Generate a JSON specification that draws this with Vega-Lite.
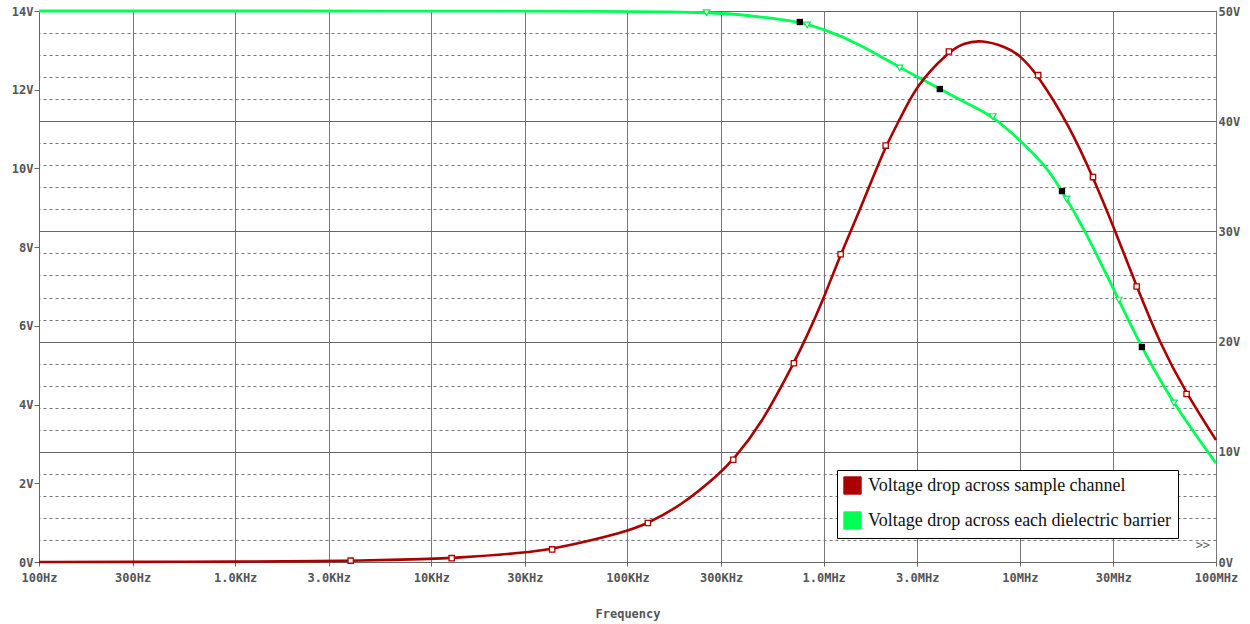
{
  "$schema": "https://vega.github.io/schema/vega-lite/v6.json",
  "width": 1177,
  "height": 551,
  "autosize": {"type": "none"},
  "padding": {"left": 39, "top": 11, "right": 34, "bottom": 62},
  "background": "white",
  "config": {
    "view": {"stroke": "#666", "strokeWidth": 1},
    "axis": {
      "labelFont": "DejaVu Sans Mono",
      "labelFontSize": 12,
      "labelFontWeight": "bold",
      "labelColor": "#555",
      "labelOverlap": false,
      "titleFont": "DejaVu Sans Mono",
      "titleFontSize": 12,
      "titleFontWeight": "bold",
      "titleColor": "#555",
      "domainColor": "#666",
      "tickColor": "#666"
    }
  },
  "datasets": {
    "red": [
      {"freq": 100, "v": 0.001, "series": "Voltage drop across sample channel"},
      {"freq": 300, "v": 0.0025, "series": "Voltage drop across sample channel"},
      {"freq": 1000, "v": 0.008, "series": "Voltage drop across sample channel"},
      {"freq": 3000, "v": 0.024, "series": "Voltage drop across sample channel"},
      {"freq": 3880, "v": 0.03, "series": "Voltage drop across sample channel"},
      {"freq": 10000, "v": 0.077, "series": "Voltage drop across sample channel"},
      {"freq": 12700, "v": 0.098, "series": "Voltage drop across sample channel"},
      {"freq": 30000, "v": 0.236, "series": "Voltage drop across sample channel"},
      {"freq": 41300, "v": 0.32, "series": "Voltage drop across sample channel"},
      {"freq": 100000, "v": 0.77, "series": "Voltage drop across sample channel"},
      {"freq": 127000, "v": 0.99, "series": "Voltage drop across sample channel"},
      {"freq": 185000, "v": 1.41, "series": "Voltage drop across sample channel"},
      {"freq": 296000, "v": 2.25, "series": "Voltage drop across sample channel"},
      {"freq": 346000, "v": 2.6, "series": "Voltage drop across sample channel"},
      {"freq": 473000, "v": 3.44, "series": "Voltage drop across sample channel"},
      {"freq": 705000, "v": 5.05, "series": "Voltage drop across sample channel"},
      {"freq": 818000, "v": 5.72, "series": "Voltage drop across sample channel"},
      {"freq": 994000, "v": 6.66, "series": "Voltage drop across sample channel"},
      {"freq": 1220000, "v": 7.82, "series": "Voltage drop across sample channel"},
      {"freq": 1530000, "v": 8.94, "series": "Voltage drop across sample channel"},
      {"freq": 2070000, "v": 10.58, "series": "Voltage drop across sample channel"},
      {"freq": 2440000, "v": 11.23, "series": "Voltage drop across sample channel"},
      {"freq": 2970000, "v": 12.12, "series": "Voltage drop across sample channel"},
      {"freq": 4350000, "v": 12.97, "series": "Voltage drop across sample channel"},
      {"freq": 5140000, "v": 13.18, "series": "Voltage drop across sample channel"},
      {"freq": 6380000, "v": 13.27, "series": "Voltage drop across sample channel"},
      {"freq": 8550000, "v": 13.08, "series": "Voltage drop across sample channel"},
      {"freq": 10000000, "v": 12.88, "series": "Voltage drop across sample channel"},
      {"freq": 12400000, "v": 12.37, "series": "Voltage drop across sample channel"},
      {"freq": 18000000, "v": 11.06, "series": "Voltage drop across sample channel"},
      {"freq": 23600000, "v": 9.78, "series": "Voltage drop across sample channel"},
      {"freq": 30500000, "v": 8.44, "series": "Voltage drop across sample channel"},
      {"freq": 39400000, "v": 7.0, "series": "Voltage drop across sample channel"},
      {"freq": 51700000, "v": 5.56, "series": "Voltage drop across sample channel"},
      {"freq": 70800000, "v": 4.27, "series": "Voltage drop across sample channel"},
      {"freq": 100000000, "v": 3.1, "series": "Voltage drop across sample channel"}
    ],
    "redMarkers": [
      {"freq": 3880, "v": 0.035},
      {"freq": 12700, "v": 0.098},
      {"freq": 41300, "v": 0.32},
      {"freq": 127000, "v": 0.99},
      {"freq": 346000, "v": 2.6},
      {"freq": 705000, "v": 5.05},
      {"freq": 1220000, "v": 7.82},
      {"freq": 2070000, "v": 10.58},
      {"freq": 4350000, "v": 12.97},
      {"freq": 12400000, "v": 12.37},
      {"freq": 23600000, "v": 9.78},
      {"freq": 39400000, "v": 7.0},
      {"freq": 70800000, "v": 4.27}
    ],
    "green": [
      {"freq": 100, "v": 50, "series": "Voltage drop across each dielectric barrier"},
      {"freq": 10000, "v": 50, "series": "Voltage drop across each dielectric barrier"},
      {"freq": 100000, "v": 49.97, "series": "Voltage drop across each dielectric barrier"},
      {"freq": 158000, "v": 49.93, "series": "Voltage drop across each dielectric barrier"},
      {"freq": 253000, "v": 49.84, "series": "Voltage drop across each dielectric barrier"},
      {"freq": 344000, "v": 49.75, "series": "Voltage drop across each dielectric barrier"},
      {"freq": 512000, "v": 49.4, "series": "Voltage drop across each dielectric barrier"},
      {"freq": 756000, "v": 49.0, "series": "Voltage drop across each dielectric barrier"},
      {"freq": 991000, "v": 48.39, "series": "Voltage drop across each dielectric barrier"},
      {"freq": 1530000, "v": 47.0, "series": "Voltage drop across each dielectric barrier"},
      {"freq": 2440000, "v": 44.87, "series": "Voltage drop across each dielectric barrier"},
      {"freq": 3090000, "v": 43.92, "series": "Voltage drop across each dielectric barrier"},
      {"freq": 3910000, "v": 42.92, "series": "Voltage drop across each dielectric barrier"},
      {"freq": 5350000, "v": 41.62, "series": "Voltage drop across each dielectric barrier"},
      {"freq": 7280000, "v": 40.47, "series": "Voltage drop across each dielectric barrier"},
      {"freq": 10000000, "v": 38.29, "series": "Voltage drop across each dielectric barrier"},
      {"freq": 13700000, "v": 35.87, "series": "Voltage drop across each dielectric barrier"},
      {"freq": 16400000, "v": 33.69, "series": "Voltage drop across each dielectric barrier"},
      {"freq": 21400000, "v": 30.13, "series": "Voltage drop across each dielectric barrier"},
      {"freq": 27700000, "v": 26.04, "series": "Voltage drop across each dielectric barrier"},
      {"freq": 32000000, "v": 23.77, "series": "Voltage drop across each dielectric barrier"},
      {"freq": 41700000, "v": 19.48, "series": "Voltage drop across each dielectric barrier"},
      {"freq": 60400000, "v": 14.4, "series": "Voltage drop across each dielectric barrier"},
      {"freq": 100000000, "v": 8.96, "series": "Voltage drop across each dielectric barrier"}
    ],
    "greenMarkers": [
      {"freq": 253000, "v": 49.84},
      {"freq": 824000, "v": 48.73},
      {"freq": 2440000, "v": 44.83},
      {"freq": 7280000, "v": 40.42},
      {"freq": 17300000, "v": 32.94},
      {"freq": 32000000, "v": 23.77},
      {"freq": 61000000, "v": 14.43}
    ],
    "blackMarkers": [
      {"freq": 756000, "v": 49.0},
      {"freq": 3910000, "v": 42.92},
      {"freq": 16400000, "v": 33.66},
      {"freq": 41900000, "v": 19.51}
    ],
    "notes": [
      {"freq": 85700000, "v": 0.43, "text": ">>"}
    ]
  },
  "encoding": {
    "x": {
      "field": "freq",
      "type": "quantitative",
      "scale": {"type": "log", "domain": [100, 100000000], "nice": false},
      "axis": {
        "values": [100, 300, 1000, 3000, 10000, 30000, 100000, 300000, 1000000, 3000000, 10000000, 30000000, 100000000],
        "labelExpr": "datum.value < 150 ? '100Hz' : datum.value < 500 ? '300Hz' : datum.value < 1500 ? '1.0KHz' : datum.value < 5000 ? '3.0KHz' : datum.value < 15000 ? '10KHz' : datum.value < 50000 ? '30KHz' : datum.value < 150000 ? '100KHz' : datum.value < 500000 ? '300KHz' : datum.value < 1500000 ? '1.0MHz' : datum.value < 5000000 ? '3.0MHz' : datum.value < 15000000 ? '10MHz' : datum.value < 50000000 ? '30MHz' : '100MHz'",
        "grid": true,
        "gridColor": "#777",
        "gridWidth": 1,
        "tickSize": 4,
        "labelPadding": 6,
        "labelFlush": false,
        "labelOverlap": false,
        "title": "Frequency",
        "titlePadding": 25
      }
    }
  },
  "layer": [
    {
      "layer": [
        {
          "data": {"name": "green"},
          "mark": {"type": "line", "strokeWidth": 2.8, "interpolate": "basis"},
          "encoding": {
            "y": {
              "field": "v",
              "type": "quantitative",
              "scale": {"domain": [0, 50], "nice": false},
              "axis": {
                "orient": "right",
                "values": [0, 2, 4, 6, 8, 10, 12, 14, 16, 18, 20, 22, 24, 26, 28, 30, 32, 34, 36, 38, 40, 42, 44, 46, 48, 50],
                "labelExpr": "datum.value % 10 === 0 ? datum.value + 'V' : ''",
                "labelOverlap": false,
                "labelFlush": false,
                "ticks": false,
                "domain": false,
                "labelPadding": 2,
                "labelAlign": "left",
                "grid": true,
                "gridWidth": 1,
                "gridColor": {"condition": {"test": "datum.value % 10 === 0", "value": "#666"}, "value": "#777"},
                "gridDash": {"condition": {"test": "datum.value % 10 === 0", "value": []}, "value": [3, 3]},
                "title": null
              }
            },
            "color": {
              "field": "series",
              "type": "nominal",
              "scale": {
                "domain": ["Voltage drop across sample channel", "Voltage drop across each dielectric barrier"],
                "range": ["#aa0000", "#00ff55"]
              },
              "legend": {
                "orient": "none",
                "legendX": 798,
                "legendY": 459,
                "title": null,
                "fillColor": "white",
                "strokeColor": "black",
                "padding": 6,
                "symbolType": "square",
                "symbolSize": 300,
                "labelFont": "Liberation Serif",
                "labelFontSize": 18,
                "labelColor": "#111",
                "labelOffset": 6,
                "labelLimit": 500,
                "labelExpr": "datum.label + '\u00a0\u00a0'",
                "rowPadding": 12,
                "encode": {
                  "symbols": {
                    "update": {
                      "fill": {"scale": "color", "field": "value"},
                      "stroke": {"value": "#333"},
                      "strokeWidth": {"value": 1},
                      "opacity": {"value": 1}
                    }
                  }
                }
              }
            }
          }
        },
        {
          "data": {"name": "greenMarkers"},
          "mark": {"type": "point", "shape": "triangle-down", "size": 42, "fill": "white", "stroke": "#00ee55", "strokeWidth": 1.2, "opacity": 1},
          "encoding": {
            "y": {
              "field": "v",
              "type": "quantitative",
              "axis": {
                "orient": "right",
                "values": [0, 2, 4, 6, 8, 10, 12, 14, 16, 18, 20, 22, 24, 26, 28, 30, 32, 34, 36, 38, 40, 42, 44, 46, 48, 50],
                "labelExpr": "datum.value % 10 === 0 ? datum.value + 'V' : ''",
                "labelOverlap": false,
                "labelFlush": false,
                "ticks": false,
                "domain": false,
                "labelPadding": 2,
                "labelAlign": "left",
                "grid": true,
                "gridWidth": 1,
                "gridColor": {"condition": {"test": "datum.value % 10 === 0", "value": "#666"}, "value": "#777"},
                "gridDash": {"condition": {"test": "datum.value % 10 === 0", "value": []}, "value": [3, 3]},
                "title": null
              }
            }
          }
        },
        {
          "data": {"name": "blackMarkers"},
          "mark": {"type": "point", "shape": "square", "size": 40, "filled": true, "color": "black", "opacity": 1},
          "encoding": {
            "y": {
              "field": "v",
              "type": "quantitative",
              "axis": {
                "orient": "right",
                "values": [0, 2, 4, 6, 8, 10, 12, 14, 16, 18, 20, 22, 24, 26, 28, 30, 32, 34, 36, 38, 40, 42, 44, 46, 48, 50],
                "labelExpr": "datum.value % 10 === 0 ? datum.value + 'V' : ''",
                "labelOverlap": false,
                "labelFlush": false,
                "ticks": false,
                "domain": false,
                "labelPadding": 2,
                "labelAlign": "left",
                "grid": true,
                "gridWidth": 1,
                "gridColor": {"condition": {"test": "datum.value % 10 === 0", "value": "#666"}, "value": "#777"},
                "gridDash": {"condition": {"test": "datum.value % 10 === 0", "value": []}, "value": [3, 3]},
                "title": null
              }
            }
          }
        }
      ]
    },
    {
      "layer": [
        {
          "data": {"name": "red"},
          "mark": {"type": "line", "strokeWidth": 2.6, "interpolate": "basis"},
          "encoding": {
            "y": {
              "field": "v",
              "type": "quantitative",
              "scale": {"domain": [0, 14], "nice": false},
              "axis": {
                "orient": "left",
                "values": [0, 2, 4, 6, 8, 10, 12, 14],
                "labelExpr": "datum.value + 'V'",
                "labelOverlap": false,
                "grid": false,
                "tickSize": 5,
                "labelPadding": 1,
                "title": null
              }
            },
            "color": {
              "field": "series",
              "type": "nominal",
              "scale": {
                "domain": ["Voltage drop across sample channel", "Voltage drop across each dielectric barrier"],
                "range": ["#aa0000", "#00ff55"]
              },
              "legend": {
                "orient": "none",
                "legendX": 798,
                "legendY": 459,
                "title": null,
                "fillColor": "white",
                "strokeColor": "black",
                "padding": 6,
                "symbolType": "square",
                "symbolSize": 300,
                "labelFont": "Liberation Serif",
                "labelFontSize": 18,
                "labelColor": "#111",
                "labelOffset": 6,
                "labelLimit": 500,
                "labelExpr": "datum.label + '\u00a0\u00a0'",
                "rowPadding": 12,
                "encode": {
                  "symbols": {
                    "update": {
                      "fill": {"scale": "color", "field": "value"},
                      "stroke": {"value": "#333"},
                      "strokeWidth": {"value": 1},
                      "opacity": {"value": 1}
                    }
                  }
                }
              }
            }
          }
        },
        {
          "data": {"name": "redMarkers"},
          "mark": {"type": "point", "shape": "square", "size": 28, "fill": "white", "stroke": "#aa0000", "strokeWidth": 1.3, "opacity": 1},
          "encoding": {"y": {"field": "v", "type": "quantitative"}}
        },
        {
          "data": {"name": "notes"},
          "mark": {"type": "text", "font": "DejaVu Sans Mono", "fontSize": 12, "color": "#666", "align": "center", "baseline": "middle"},
          "encoding": {"y": {"field": "v", "type": "quantitative"}, "text": {"field": "text"}}
        }
      ]
    }
  ],
  "resolve": {"scale": {"y": "independent"}, "axis": {"y": "independent"}}
}
